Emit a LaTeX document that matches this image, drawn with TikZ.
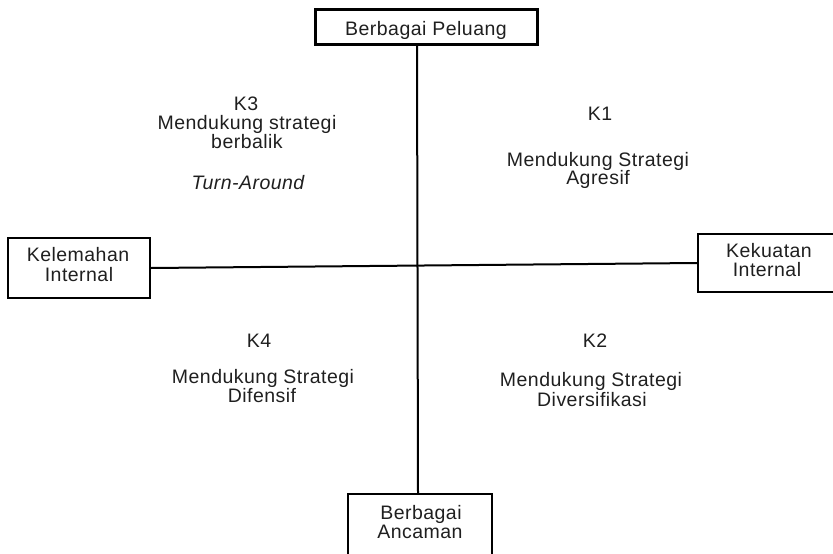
\documentclass[tikz,border=0pt]{standalone}
\usepackage{fontspec}
\setmainfont[LetterSpace=2.4]{Liberation Sans}
\begin{document}
\begin{tikzpicture}[x=1pt,y=-1pt,
  font=\fontsize{19.5}{20}\selectfont,
  framebox/.style={draw, line width=2.2pt, inner sep=0pt},
  axisline/.style={line width=2pt},
  lbl/.style={anchor=base, inner sep=0pt, text=black!88}]
\useasboundingbox (0,0) rectangle (833,554);
\clip (0,0) rectangle (833,554);

% four boxes on the ends of the axes
\node[framebox, minimum width=222pt, minimum height=35pt] (pel) at (426.5,27) {};
\node[framebox, minimum width=142pt, minimum height=60pt] (lem) at (79,268) {};
\node[framebox, minimum width=140pt, minimum height=58pt] (kek) at (768,263) {};
\node[framebox, minimum width=144pt, minimum height=80pt] (anc) at (420,534) {};

% box captions
\node[lbl] (tpel) at (426,35) {Berbagai Peluang};
\node[lbl] (tlem1) at (78,261) {Kelemahan};
\node[lbl] (tlem2) at (79,281) {Internal};
\node[lbl] (tkek1) at (769,257) {Kekuatan};
\node[lbl] (tkek2) at (767,276) {Internal};
\node[lbl] (tanc1) at (421,519) {Berbagai};
\node[lbl] (tanc2) at (420,538) {Ancaman};

% axes
\coordinate (vtop) at (417,0);
\coordinate (vbot) at (418,0);
\draw[axisline] (vtop |- pel.south) -- (vbot |- anc.north);
\draw[axisline] (lem.east) -- (kek.west);

% quadrant K3
\node[lbl] (k3a) at (246,110) {K3};
\node[lbl] (k3b) at (247,129) {Mendukung strategi};
\node[lbl] (k3c) at (247,148) {berbalik};
\node[lbl] (k3d) at (248,189) {\itshape Turn-Around};

% quadrant K1
\node[lbl] (k1a) at (600,120) {K1};
\node[lbl] (k1b) at (598,166) {Mendukung Strategi};
\node[lbl] (k1c) at (598,184) {Agresif};

% quadrant K4
\node[lbl] (k4a) at (259,347) {K4};
\node[lbl] (k4b) at (263,383) {Mendukung Strategi};
\node[lbl] (k4c) at (262,402) {Difensif};

% quadrant K2
\node[lbl] (k2a) at (595,347) {K2};
\node[lbl] (k2b) at (591,386) {Mendukung Strategi};
\node[lbl] (k2c) at (592,406) {Diversifikasi};
\end{tikzpicture}
\end{document}
